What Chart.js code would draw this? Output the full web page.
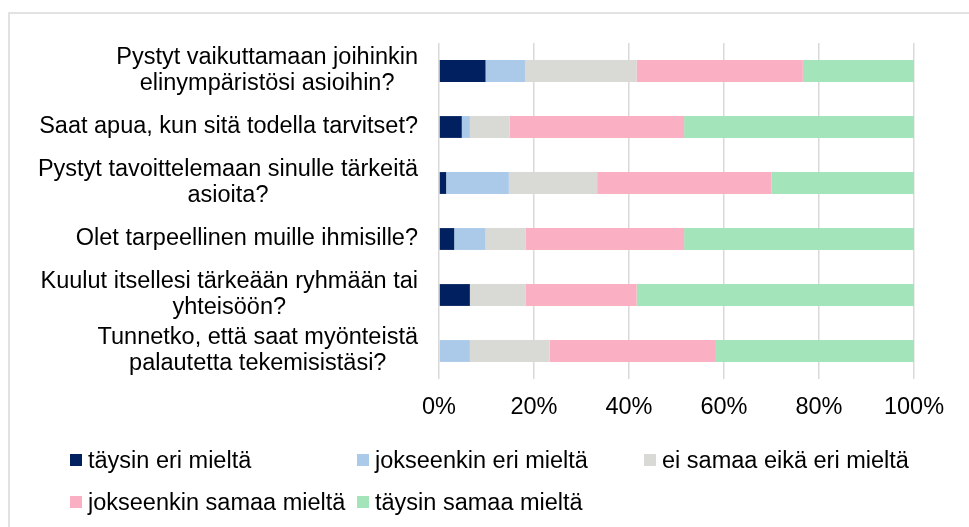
<!DOCTYPE html>
<html>
<head>
<meta charset="utf-8">
<script src="https://cdn.jsdelivr.net/npm/chart.js@4.4.0/dist/chart.umd.min.js"></script>
<style>
  html, body { margin: 0; padding: 0; background: #fff; overflow: hidden; }
  #wrap { position: relative; width: 969px; height: 527px; }
  #legend {
    position: absolute; left: 70px; top: 439px;
    display: grid; grid-template-columns: 287px 287px 287px;
    font: 23.5px "Liberation Sans", Arial, sans-serif; color: #000;
  }
  #legend .item { display: flex; align-items: center; height: 42px; white-space: nowrap; }
  #legend .box { width: 12px; height: 12px; margin-right: 6px; flex: none; }
</style>
</head>
<body>
<div id="wrap">
  <canvas id="myChart" width="969" height="527"></canvas>
  <div id="legend"></div>
</div>
<script>
const categories = [
  ["Pystyt vaikuttamaan joihinkin", "elinympäristösi asioihin?"],
  "Saat apua, kun sitä todella tarvitset?",
  ["Pystyt tavoittelemaan sinulle tärkeitä", "asioita?"],
  "Olet tarpeellinen muille ihmisille?",
  ["Kuulut itsellesi tärkeään ryhmään tai", "yhteisöön?"],
  ["Tunnetko, että saat myönteistä", "palautetta tekemisistäsi?"],
];
const seriesNames = [
  "täysin eri mieltä",
  "jokseenkin eri mieltä",
  "ei samaa eikä eri mieltä",
  "jokseenkin samaa mieltä",
  "täysin samaa mieltä",
];
const taysinEri = [9.8, 4.8, 1.5, 3.2, 6.5, 0];
const jokseenkinEri = [8.3, 1.7, 13.2, 6.6, 0, 6.5];
const eiSamaaEikaEri = [23.5, 8.4, 18.6, 8.4, 11.8, 16.8];
const jokseenkinSamaa = [35.0, 36.7, 36.7, 33.4, 23.3, 35.0];
const taysinSamaa = [23.4, 48.4, 30.0, 48.4, 58.4, 41.7];
const xTickLabels = ["0%", "20%", "40%", "60%", "80%", "100%"];

const colors = ["#002060", "#abc9e9", "#d9d9d5", "#fbafc2", "#a3e4ba"];
const font = '"Liberation Sans", Arial, sans-serif';
const fontSize = 23.5;

const yLabels = {
  id: "yLabels",
  beforeDraw: function (chart) {
    const ctx = chart.ctx;
    ctx.save();
    ctx.fillStyle = "#ffffff";
    ctx.fillRect(0, 0, chart.width, chart.height);
    ctx.strokeStyle = "#d9d9d9";
    ctx.lineWidth = 1.5;
    ctx.beginPath();
    ctx.moveTo(9, chart.height);
    ctx.lineTo(9, 13);
    ctx.lineTo(chart.width, 13);
    ctx.stroke();
    ctx.restore();
  },
  afterDraw: function (chart) {
    const ctx = chart.ctx;
    const yScale = chart.scales.y;
    const right = yScale.right - 21;
    const lineH = 26;
    ctx.save();
    ctx.font = fontSize + "px " + font;
    ctx.fillStyle = "#000000";
    ctx.textAlign = "center";
    ctx.textBaseline = "middle";
    chart.data.labels.forEach(function (label, i) {
      const lines = Array.isArray(label) ? label : [label];
      const w = Math.max(...lines.map((l) => ctx.measureText(l).width));
      const cx = right - w / 2;
      const y0 = yScale.getPixelForValue(i) - ((lines.length - 1) * lineH) / 2;
      lines.forEach((l, j) => ctx.fillText(l, cx, y0 + j * lineH));
    });
    ctx.restore();
  },
};

const ctx = document.getElementById("myChart").getContext("2d");

const barChart = new Chart(ctx, {
  type: "bar",
  data: {
    labels: categories,
    datasets: [taysinEri, jokseenkinEri, eiSamaaEikaEri, jokseenkinSamaa, taysinSamaa].map((d, i) => ({
      label: seriesNames[i],
      data: d,
      backgroundColor: colors[i],
      borderWidth: 0,
      categoryPercentage: 1,
      barPercentage: 0.39,
    })),
  },
  options: {
    indexAxis: "y",
    responsive: false,
    animation: false,
    layout: { padding: { top: 43, right: 55, bottom: 98, left: 0 } },
    scales: {
      x: {
        stacked: true,
        min: 0,
        max: 100,
        afterFit: function (scale) { scale.height = 50; },
        ticks: {
          stepSize: 20,
          padding: 14,
          color: "#000000",
          font: { family: font, size: fontSize },
          callback: (v, i) => xTickLabels[i],
        },
        grid: { color: "#d9d9d9", lineWidth: 1.5, drawTicks: false },
        border: { display: false },
      },
      y: {
        stacked: true,
        afterFit: function (scale) { scale.width = 439; },
        ticks: { display: false },
        grid: { display: false },
        border: { display: false },
      },
    },
    plugins: {
      legend: { display: false },
      tooltip: { enabled: false },
    },
  },
  plugins: [yLabels],
});

const legendEl = document.getElementById("legend");
barChart.data.datasets.forEach(function (ds) {
  const item = document.createElement("div");
  item.className = "item";
  const box = document.createElement("span");
  box.className = "box";
  box.style.background = ds.backgroundColor;
  item.appendChild(box);
  item.appendChild(document.createTextNode(ds.label));
  legendEl.appendChild(item);
});
</script>
</body>
</html>
